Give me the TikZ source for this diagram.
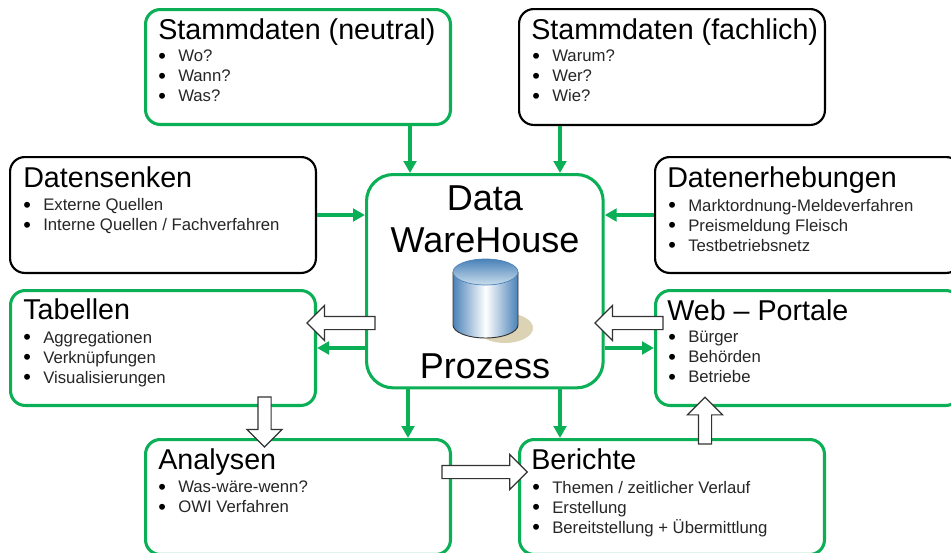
\documentclass[tikz,border=0pt]{standalone}
\usepackage{fontspec}
\setmainfont{Liberation Sans}
\usetikzlibrary{shapes.arrows,arrows.meta}
\definecolor{dwhgreen}{HTML}{0BAF55}
\definecolor{cylblue}{HTML}{4A82B8}
\definecolor{cyltop}{HTML}{C8DDEC}
\definecolor{cylshadow}{HTML}{DCD3B4}
\newcommand{\blt}{\makebox[15pt][l]{\raisebox{-1.2pt}{\scalebox{1.3}{\textcolor{black}{\textbullet}}}}}
\tikzset{
  greenbox/.style={draw=dwhgreen,line width=2.3pt,rounded corners=11pt,fill=white,minimum width=228.7pt,minimum height=86.2pt,anchor=north west},
  blackbox/.style={greenbox,draw=black,line width=1.6pt,minimum width=229.4pt,minimum height=86.9pt},
  boxtitle/.style={font=\fontsize{21.5}{23}\selectfont,anchor=base west,inner sep=0pt},
  boxitems/.style={font=\fontsize{12.55}{15}\selectfont,anchor=north west,align=left,inner sep=0pt,text=black!85},
  bigtext/.style={font=\fontsize{27}{30}\selectfont,inner sep=0pt,anchor=base},
  flow/.style={draw=dwhgreen,line width=2.3pt,-{Triangle[length=9pt,width=9.5pt]}},
  blockarrow/.style={single arrow,draw=black!80,line width=0.9pt,fill=white,inner sep=4.5pt,outer sep=0pt,single arrow head extend=8.2pt,minimum height=#1,anchor=tail}
}
\begin{document}
\begin{tikzpicture}[x=0.75pt,y=-0.75pt]
\useasboundingbox (0,0) rectangle (951,553);
\clip (0,0) rectangle (951,553);
% Boxes
\node[greenbox] (neutral) at (144,8) {};
\node[blackbox] (fachlich) at (518,8) {};
\node[blackbox] (senken) at (9,156) {};
\node[blackbox] (erhebung) at (654,156) {};
\node[greenbox] (tabellen) at (9,289) {};
\node[greenbox] (portale) at (654,289) {};
\node[greenbox] (analysen) at (144,438) {};
\node[greenbox] (berichte) at (518,438) {};
\node[greenbox,minimum width=177.5pt,minimum height=160pt,rounded corners=20pt] (dwh) at (365,173) {};

% Titles
\node[boxtitle] at (158,39) {Stammdaten (neutral)};
\node[boxtitle] at (531,39) {Stammdaten (fachlich)};
\node[boxtitle] at (23,187) {Datensenken};
\node[boxtitle] at (667,187) {Datenerhebungen};
\node[boxtitle] at (23,319.5) {Tabellen};
\node[boxtitle] at (667,320) {Web -- Portale};
\node[boxtitle] at (158,469) {Analysen};
\node[boxtitle] at (531,469) {Berichte};

% Lists
\node[boxitems] at (158,50) {\blt Wo?\\\blt Wann?\\\blt Was?};
\node[boxitems] at (532,50) {\blt Warum?\\\blt Wer?\\\blt Wie?};
\node[boxitems] at (23,198.5) {\blt Externe Quellen\\\blt Interne Quellen / Fachverfahren};
\node[boxitems] at (668,199) {\blt Marktordnung-Meldeverfahren\\\blt Preismeldung Fleisch\\\blt Testbetriebsnetz};
\node[boxitems] at (23,331) {\blt Aggregationen\\\blt Verknüpfungen\\\blt Visualisierungen};
\node[boxitems] at (668,331) {\blt Bürger\\\blt Behörden\\\blt Betriebe};
\node[boxitems] at (158,481) {\blt Was-wäre-wenn?\\\blt OWI Verfahren};
\node[boxitems] at (532,481) {\blt Themen / zeitlicher Verlauf\\\blt Erstellung\\\blt Bereitstellung + Übermittlung};

% Center
\node[bigtext] at (485,210) {Data};
\node[bigtext] at (485,252) {WareHouse};
\node[bigtext] at (485,378.5) {Prozess};

% Cylinder
\fill[cylshadow] (505,328) ellipse (28 and 15);
\shade[left color=cylblue,right color=cylblue,middle color=white] (453,272) -- (453,325) arc[start angle=180,end angle=0,x radius=32.5,y radius=13] -- (518,272) -- cycle;
\draw[black!80,line width=0.7pt] (453,272) -- (453,325) arc[start angle=180,end angle=0,x radius=32.5,y radius=13] -- (518,272);
\shade[top color=cylblue,bottom color=cyltop,draw=cylblue,line width=0.5pt] (485.5,272) ellipse (32.5 and 13);

% Connectors
\coordinate (xleft) at (410,0);
\coordinate (xright) at (560,0);
\coordinate (xdown) at (408,0);
\coordinate (yupper) at (0,215);
\coordinate (ylower) at (0,348);
\draw[flow] (neutral.south -| xleft) -- (dwh.north -| xleft);
\draw[flow] (fachlich.south -| xright) -- (dwh.north -| xright);
\draw[flow] (senken.east |- yupper) -- (dwh.west |- yupper);
\draw[flow] (erhebung.west |- yupper) -- (dwh.east |- yupper);
\draw[flow] (dwh.west |- ylower) -- (tabellen.east |- ylower);
\draw[flow] (dwh.east |- ylower) -- (portale.west |- ylower);
\draw[flow] (dwh.south -| xdown) -- (analysen.north -| xdown);
\draw[flow] (dwh.south -| xright) -- (berichte.north -| xright);

% Block arrows
\node[blockarrow=51pt,rotate=180] (dwhtab) at (375,323) {};
\node[blockarrow=51pt,rotate=180] (webdwh) at (663,323) {};
\node[blockarrow=37.5pt,rotate=-90] (tabana) at (264.5,397) {};
\node[blockarrow=64pt] (anaber) at (442,472) {};
\node[blockarrow=35pt,rotate=90] (berweb) at (705,444) {};
\end{tikzpicture}
\end{document}
